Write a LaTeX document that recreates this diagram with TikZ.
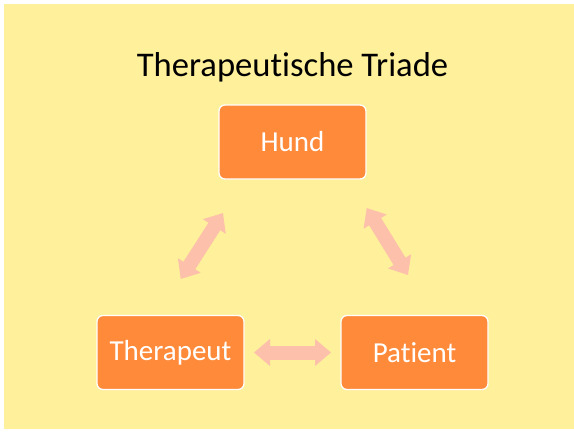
\documentclass[tikz,border=0pt]{standalone}
\usepackage{fontspec}
\setmainfont{Carlito}[Ligatures={NoCommon}]
\usetikzlibrary{arrows.meta}
\definecolor{bgyellow}{HTML}{FFF09B}
\definecolor{boxorange}{HTML}{FF8A3A}
\definecolor{arrowc}{HTML}{FDC0AB}
\tikzset{
  box/.style={fill=boxorange, draw=white, line width=1.3pt, rounded corners=6pt,
    minimum width=147pt, minimum height=74pt, inner sep=0pt, outer sep=0pt,
    text=white, font=\fontsize{29}{34}\selectfont},
  dbl/.style={draw=arrowc, line width=14pt,
    {Triangle[width=26pt,length=16pt]}-{Triangle[width=26pt,length=16pt]}},
  title/.style={font=\fontsize{34.6}{40}\selectfont, text=black, anchor=base}
}
\begin{document}
\begin{tikzpicture}[x=1pt,y=-1pt]
\useasboundingbox (0,0) rectangle (574,432);
\fill[white] (0,0) rectangle (574,432);
\fill[bgyellow] (3.5,3.5) rectangle (574,429);
\node[title] (t) at (292.5,76) {Therapeutische Triade};
\node[box] (hund) at (292.5,142) {Hund};
\node[box] (therapeut) at (170.5,352.5) {Therapeut};
\node[box] (patient) at (414.5,352.5) {Patient};
\coordinate (l1) at (180.7,279);
\coordinate (l2) at (223,213);
\coordinate (r1) at (366.7,208);
\coordinate (r2) at (408,275);
\draw[dbl] (l1) -- (l2);
\draw[dbl] (r1) -- (r2);
\draw[dbl, shorten <=10pt, shorten >=10pt] (therapeut.east) -- (patient.west);
\end{tikzpicture}
\end{document}
